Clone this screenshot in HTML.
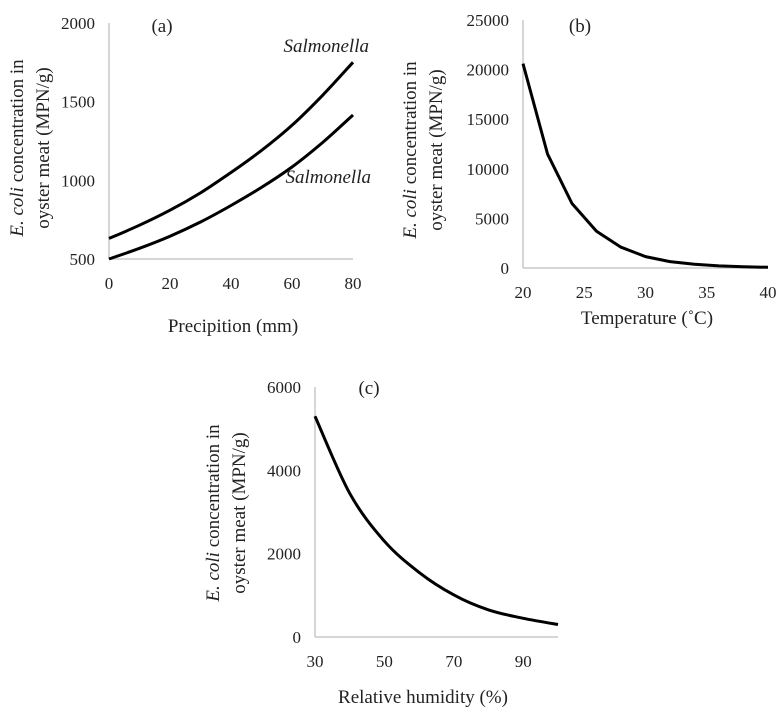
<!DOCTYPE html>
<html><head><meta charset="utf-8"><style>
body{margin:0;background:#fff}
svg{display:block;font-family:"Liberation Serif",serif}
.tk{font-size:17px;fill:#222}
.ti{font-size:19px;fill:#222}
</style></head><body>
<svg id="fig" width="783" height="715"></svg>
<script>
const aX=[0,10,20,30,40,50,60,70,80];
const aUpper=[630,715,810,920,1050,1190,1350,1540,1750];
const aLower=[500,568,645,735,840,955,1085,1240,1415];
const aXTicks=[0,20,40,60,80];
const aYTicks=[500,1000,1500,2000];
const bX=[20,22,24,26,28,30,32,34,36,38,40];
const bY=[20600,11500,6500,3700,2100,1150,650,370,210,120,70];
const bXTicks=[20,25,30,35,40];
const bYTicks=[0,5000,10000,15000,20000,25000];
const cX=[30,40,50,60,70,80,90,100];
const cY=[5300,3450,2300,1550,1010,650,450,300];
const cXTicks=[30,50,70,90];
const cYTicks=[0,2000,4000,6000];

const NS='http://www.w3.org/2000/svg';
const svg=document.getElementById('fig');
function el(t,a,p){const e=document.createElementNS(NS,t);for(const k in a)e.setAttribute(k,a[k]);(p||svg).appendChild(e);return e;}
function scale(d0,d1,r0,r1){return v=>r0+(v-d0)/(d1-d0)*(r1-r0);}
function smoothPath(P){
  let d='M'+P[0][0].toFixed(1)+','+P[0][1].toFixed(1);
  for(let i=0;i<P.length-1;i++){
    const p0=P[i-1]||P[i],p1=P[i],p2=P[i+1],p3=P[i+2]||p2;
    const c1=[p1[0]+(p2[0]-p0[0])/6,p1[1]+(p2[1]-p0[1])/6];
    const c2=[p2[0]-(p3[0]-p1[0])/6,p2[1]-(p3[1]-p1[1])/6];
    d+=`C${c1[0].toFixed(1)},${c1[1].toFixed(1)} ${c2[0].toFixed(1)},${c2[1].toFixed(1)} ${p2[0].toFixed(1)},${p2[1].toFixed(1)}`;
  }
  return d;
}

function panel(o){
  const g=el('g',{});
  
  
  const x=scale(o.xd[0],o.xd[1],o.x0,o.x1), y=scale(o.yd[0],o.yd[1],o.y0,o.y1);
  const ax=el('line',{x1:o.x0,y1:o.y0,x2:o.x1,y2:o.y0,stroke:'#c8c8c8','stroke-width':1.5},g);
  
  
  const ay=el('line',{x1:o.x0,y1:o.y0,x2:o.x0,y2:o.y1,stroke:'#c8c8c8','stroke-width':1.5},g);
  
  
  o.xt.forEach(v=>{const t=el('text',{x:x(v),y:o.y0+30,'text-anchor':'middle',class:'tk'},g);t.textContent=v;
    
    });
  o.yt.forEach(v=>{const t=el('text',{x:o.x0-14,y:y(v)+6,'text-anchor':'end',class:'tk'},g);t.textContent=v;
    
    });
  o.series.forEach(s=>{
    const P=s.xs.map((v,i)=>[x(v),y(s.ys[i])]);
    const d=o.smooth?smoothPath(P):P.map((p,i)=>(i?'L':'M')+p[0].toFixed(1)+','+p[1].toFixed(1)).join('');
    const p=el('path',{d:d,fill:'none',stroke:'#000','stroke-width':3,'stroke-linejoin':'round'},g);
    
    
  });
  const xt=el('text',{x:o.xtx,y:o.xty,'text-anchor':'middle',class:'ti'},g);xt.textContent=o.xtitle;
  
  
  const yt=el('text',{transform:`translate(${o.ytx},${o.yty}) rotate(-90)`,'text-anchor':'middle',class:'ti'},g);
  
  
  yt.innerHTML=`<tspan x="0" y="0"><tspan font-style="italic">E.${o.sp}coli</tspan> concentration in</tspan><tspan x="0" y="26">oyster meat (MPN/g)</tspan>`;
  const lb=el('text',{x:o.lx,y:o.ly,'text-anchor':'middle',class:'ti'},g);lb.textContent=o.label;
  
  
  return g;
}
panel({name:'panel-a',smooth:true,x0:109,x1:353,y0:259,y1:23,xd:[0,80],yd:[500,2000],xt:aXTicks,yt:aYTicks,
  series:[{name:'upper-series',xs:aX,ys:aUpper},{name:'lower-series',xs:aX,ys:aLower}],
  xtitle:'Precipition (mm)',xtx:233,xty:332,ytx:23,yty:148,sp:' ',label:'(a)',lx:162,ly:32});
const s1=el('text',{x:369,y:52,'text-anchor':'end',class:'ti','font-style':'italic'});s1.textContent='Salmonella';


const s2=el('text',{x:371,y:183,'text-anchor':'end',class:'ti','font-style':'italic'});s2.textContent='Salmonella';


panel({name:'panel-b',smooth:false,x0:523,x1:768,y0:268,y1:20,xd:[20,40],yd:[0,25000],xt:bXTicks,yt:bYTicks,
  series:[{name:'temperature-series',xs:bX,ys:bY}],
  xtitle:'Temperature (˚C)',xtx:647,xty:324,ytx:416,yty:150,sp:'  ',label:'(b)',lx:580,ly:32});
panel({name:'panel-c',smooth:true,x0:315,x1:558,y0:637,y1:387,xd:[30,100],yd:[0,6000],xt:cXTicks,yt:cYTicks,
  series:[{name:'humidity-series',xs:cX,ys:cY}],
  xtitle:'Relative humidity (%)',xtx:423,xty:703,ytx:219,yty:513,sp:' ',label:'(c)',lx:369,ly:394});
</script>
</body></html>
